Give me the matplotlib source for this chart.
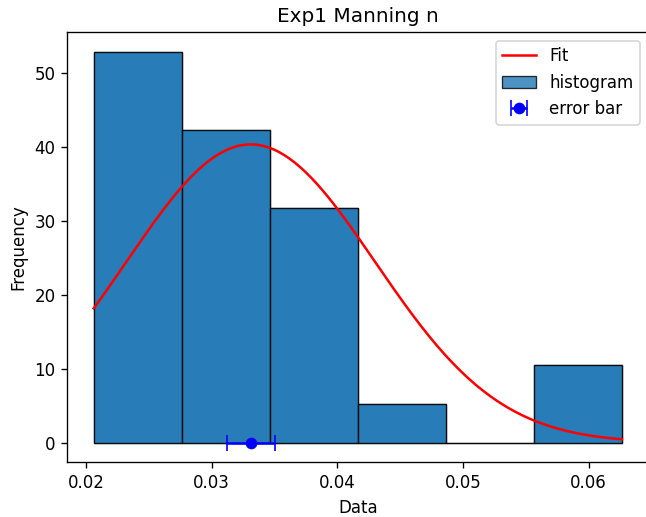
import numpy as np
import matplotlib
matplotlib.use("Agg")
import matplotlib.pyplot as plt

# histogram (density)
bin_edges = [0.0206, 0.02761, 0.03462, 0.04163, 0.04864, 0.05565, 0.06266]
densities = [52.8, 42.3, 31.7, 5.28, 0.0, 10.56]

# gaussian fit parameters
mu = 0.0331
sigma = 0.0099
sem = 0.0019

fig = plt.figure(figsize=(6.46 / 1.2, 5.17 / 1.2), dpi=120)
# the original image is cropped on the right, so the axes run past the edge
ax = fig.add_axes([0.1042, 0.1058, 0.8994, 0.8317])

x = np.linspace(bin_edges[0], bin_edges[-1], 200)
pdf = np.exp(-0.5 * ((x - mu) / sigma) ** 2) / (sigma * np.sqrt(2 * np.pi))
ax.plot(x, pdf, 'r-', label='Fit')

# bars are drawn twice in the original, so they look darker than the legend patch
ax.hist(bin_edges[:-1], bins=bin_edges, weights=densities, alpha=0.8,
        color='C0', edgecolor='black', linewidth=0.8, label='histogram')
ax.hist(bin_edges[:-1], bins=bin_edges, weights=densities, alpha=0.8,
        color='C0', edgecolor='black', linewidth=0.8)

ax.errorbar(mu, 0, xerr=sem, fmt='bo', capsize=5, label='error bar')

ax.use_sticky_edges = False
ax.autoscale_view()

ax.set_title('Exp1 Manning n')
ax.set_xlabel('Data')
ax.set_ylabel('Frequency')
ax.legend(loc='upper right')

fig.savefig('out.png', dpi=120)
